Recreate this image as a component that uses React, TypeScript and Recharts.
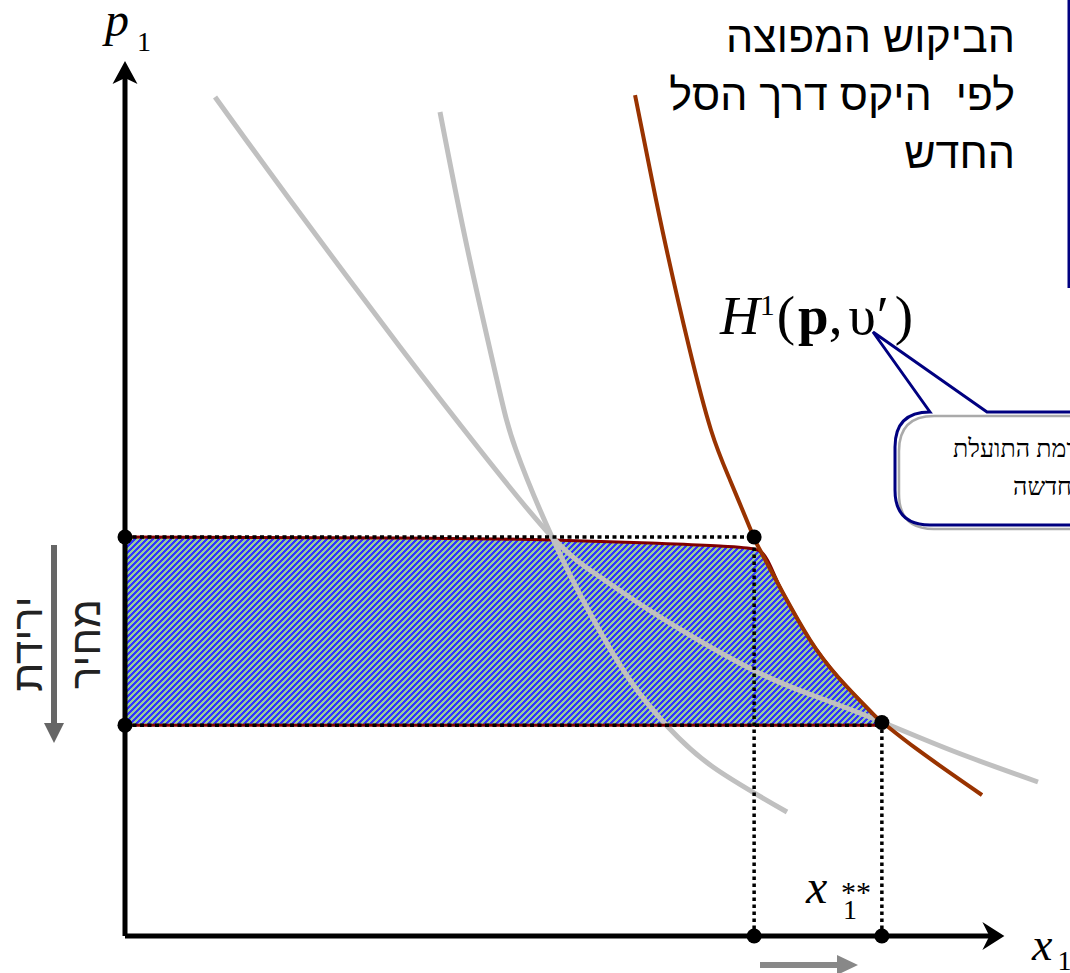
import { ComposedChart, Line, Area, Scatter, XAxis, YAxis, ReferenceLine } from 'recharts';

// chart units: x 0..105, y 0..100 (same px scale on both axes)
const priceHigh = 45.6;
const priceLow = 24.1;
const xHicks = 71.9;
const xStarStar = 86.5;
const yStarStar = 24.4;

// gray curves
const grayCurveA = [
  { x: 36.0, y: 94.17 },
  { x: 39.09, y: 78.74 },
  { x: 42.51, y: 63.54 },
  { x: 44.69, y: 55.54 },
  { x: 48.8, y: 45.6 },
  { x: 53.37, y: 36.46 },
  { x: 57.94, y: 28.91 },
  { x: 62.06, y: 23.89 },
  { x: 67.2, y: 19.31 },
  { x: 75.66, y: 14.17 },
];

const grayCurveB = [
  { x: 10.29, y: 95.89 },
  { x: 18.86, y: 84.11 },
  { x: 31.43, y: 67.31 },
  { x: 40.57, y: 55.54 },
  { x: 48.8, y: 45.6 },
  { x: 54.29, y: 41.03 },
  { x: 61.14, y: 36.46 },
  { x: 71.77, y: 30.4 },
  { x: 79.43, y: 27.2 },
  { x: 86.51, y: 24.46 },
  { x: 94.63, y: 21.14 },
  { x: 104.34, y: 17.6 },
];

// H1(p, v') hicksian demand
const hicksDemand = [
  { x: 58.29, y: 96.11 },
  { x: 60.23, y: 86.4 },
  { x: 61.83, y: 78.74 },
  { x: 64.46, y: 67.31 },
  { x: 66.97, y: 57.83 },
  { x: 69.14, y: 52.11 },
  { x: 71.66, y: 46.06 },
  { x: 72.57, y: 44.11 },
  { x: 75.2, y: 39.2 },
  { x: 78.29, y: 33.83 },
  { x: 81.49, y: 29.6 },
  { x: 85.37, y: 25.49 },
  { x: 86.51, y: 24.46 },
  { x: 90.63, y: 21.26 },
  { x: 97.94, y: 16.11 },
];

// top edge of the equivalent variation area
const evTop = [
  { x: 0, y: 45.6 },
  { x: 31.43, y: 45.49 },
  { x: 48.8, y: 45.26 },
  { x: 60.0, y: 44.91 },
  { x: 68.0, y: 44.57 },
  { x: 71.09, y: 44.34 },
  { x: 72.57, y: 44.0 },
  { x: 75.2, y: 39.2 },
  { x: 78.29, y: 33.83 },
  { x: 81.49, y: 29.6 },
  { x: 85.37, y: 25.49 },
  { x: 86.51, y: 24.23 },
];

const keyPoints = [
  { x: 0, y: priceHigh },
  { x: 0, y: priceLow },
  { x: xHicks, y: priceHigh },
  { x: xStarStar, y: yStarStar },
  { x: xHicks, y: 0 },
  { x: xStarStar, y: 0 },
];

const topNote = ['הביקוש המפוצה', 'לפי  היקס דרך הסל', 'החדש'];
const calloutNote = ['ברמת התועלת', 'החדשה'];
const sideNote = ['ירידת', 'מחיר'];

const serif = '"Liberation Serif", "Times New Roman", serif';
const sans = '"Liberation Sans", Arial, "DejaVu Sans", sans-serif';

// crisp "/" hatch, 6px period, 3px blue
const hatchRows = [0, 1, 2, 3, 4, 5];

const XArrow = (p: any) => (
  <g>
    <line x1={p.x1} y1={p.y1} x2={p.x2 - 12} y2={p.y2} stroke="#000" strokeWidth={5} />
    <path
      d={`M ${p.x2} ${p.y2} L ${p.x2 - 22} ${p.y2 - 14} L ${p.x2 - 15} ${p.y2} L ${p.x2 - 22} ${p.y2 + 14} Z`}
      fill="#000"
    />
  </g>
);

const YArrow = (p: any) => (
  <g>
    <line x1={p.x1} y1={p.y1} x2={p.x2} y2={p.y2 + 12} stroke="#000" strokeWidth={5} />
    <path
      d={`M ${p.x2} ${p.y2} L ${p.x2 - 12.5} ${p.y2 + 23} L ${p.x2} ${p.y2 + 17} L ${p.x2 + 12.5} ${p.y2 + 23} Z`}
      fill="#000"
    />
  </g>
);

const BigDot = (p: any) => <circle cx={p.cx} cy={p.cy} r={7.5} fill="#000" />;

const boxPath = 'M 930 412 L 1160 412 L 1160 525 L 930 525 Q 895 525 895 490 L 895 447 Q 895 412 930 412 Z';
const shadowPath = 'M 934 416 L 1164 416 L 1164 529 L 934 529 Q 899 529 899 494 L 899 451 Q 899 416 934 416 Z';
const calloutPath =
  'M 930 412 L 873 332 L 987 412 L 1160 412 L 1160 525 L 930 525 Q 895 525 895 490 L 895 447 Q 895 412 930 412 Z';

export default function App() {
  return (
    <div style={{ position: 'absolute', left: 0, top: 0, width: 1070, height: 973, background: '#fff' }}>
      <ComposedChart width={1070} height={973} margin={{ top: 61, right: 26.25, bottom: 37, left: 125 }}>
        <defs>
          <pattern id="evHatch" width="6" height="6" patternUnits="userSpaceOnUse">
            <rect width="6" height="6" fill="#99cc99" />
            {hatchRows.map((r) => {
              const start = (6 - r) % 6;
              return (
                <g key={r} shapeRendering="crispEdges">
                  <rect x={start} y={r} width={3} height={1} fill="#3333ff" />
                  {start > 3 && <rect x={start - 6} y={r} width={3} height={1} fill="#3333ff" />}
                </g>
              );
            })}
          </pattern>
        </defs>
        <XAxis type="number" dataKey="x" domain={[0, 105]} hide />
        <YAxis type="number" dataKey="y" domain={[0, 100]} hide />

        <Area
          data={evTop}
          dataKey="y"
          type="monotone"
          baseValue={priceLow}
          stroke="#800000"
          strokeWidth={3}
          fill="url(#evHatch)"
          fillOpacity={1}
          isAnimationActive={false}
        />
        <Line data={grayCurveA} dataKey="y" type="natural" stroke="#c0c0c0" strokeWidth={5} dot={false} isAnimationActive={false} />
        <Line data={grayCurveB} dataKey="y" type="natural" stroke="#c0c0c0" strokeWidth={5} dot={false} isAnimationActive={false} />
        <Line data={hicksDemand} dataKey="y" type="natural" stroke="#993300" strokeWidth={4} dot={false} isAnimationActive={false} />

        <ReferenceLine segment={[{ x: 0, y: priceLow }, { x: xStarStar, y: priceLow }]} stroke="#800000" strokeWidth={3} />
        <ReferenceLine segment={[{ x: 0, y: priceHigh }, { x: xHicks, y: priceHigh }]} stroke="#000" strokeWidth={3.5} strokeDasharray="4 3.5" />
        <ReferenceLine segment={[{ x: 0, y: priceLow }, { x: xStarStar, y: priceLow }]} stroke="#000" strokeWidth={3.5} strokeDasharray="4 3.5" />
        <ReferenceLine segment={[{ x: xHicks, y: 0 }, { x: xHicks, y: priceHigh }]} stroke="#000" strokeWidth={3.5} strokeDasharray="3.5 3.5" />
        <ReferenceLine segment={[{ x: xStarStar, y: 0 }, { x: xStarStar, y: yStarStar }]} stroke="#000" strokeWidth={3.5} strokeDasharray="3.5 3.5" />

        <ReferenceLine segment={[{ x: 0, y: 0 }, { x: 100.5, y: 0 }]} shape={XArrow} />
        <ReferenceLine segment={[{ x: 0, y: 0 }, { x: 0, y: 100 }]} shape={YArrow} />

        <Scatter data={keyPoints} dataKey="y" shape={BigDot} isAnimationActive={false} />

        {/* labels */}
        <text x={105} y={36} fontFamily={serif} fontSize={48} fontStyle="italic">
          p<tspan fontStyle="normal" fontSize={28} dx={8} dy={15}>1</tspan>
        </text>
        <text x={1032} y={960} fontFamily={serif} fontSize={46} fontStyle="italic">
          x<tspan fontStyle="normal" fontSize={28} dx={5} dy={10}>1</tspan>
        </text>
        <text x={806} y={903} fontFamily={serif} fontSize={48} fontStyle="italic">x</text>
        <text x={843} y={919} fontFamily={serif} fontSize={28}>1</text>
        <text x={841} y={902} fontFamily={serif} fontSize={30}>**</text>

        <text x={720} y={334} fontFamily={serif} fontSize={55}>
          <tspan fontStyle="italic">H</tspan>
          <tspan fontSize={30} dy={-19}>1</tspan>
          <tspan dy={19} dx={2}>(</tspan>
          <tspan fontWeight="bold" dx={3}>p</tspan>
          <tspan>,</tspan>
          <tspan dx={6}>υ</tspan>
          <tspan dx={1}>′</tspan>
          <tspan dx={6}>)</tspan>
        </text>

        {topNote.map((t, i) => (
          <text
            key={t}
            x={1015}
            y={52 + i * 58}
            textAnchor="end"
            fontFamily={sans}
            fontSize={43}
            fill="#000"
            style={{ whiteSpace: 'pre' }}
          >
            {t}
          </text>
        ))}

        <text x={167} y={635} fontFamily={sans} fontSize={40} fontWeight="bold">Equivalent</text>
        <text x={167} y={685} fontFamily={sans} fontSize={40} fontWeight="bold">Variation</text>

        {sideNote.map((t, i) => (
          <text
            key={t}
            transform={`translate(${42 + i * 58}, 644) rotate(-90)`}
            textAnchor="middle"
            fontFamily={sans}
            fontSize={42}
            fill="#222"
          >
            {t}
          </text>
        ))}

        {/* gray direction arrows */}
        <path d="M 51 545 L 57 545 L 57 723 L 64 723 L 54 743 L 44 723 L 51 723 Z" fill="#666" />
        <path d="M 760 962 L 837 962 L 837 955 L 858 965 L 837 975 L 837 968 L 760 968 Z" fill="#888" />

        {/* box edge top right */}
        <line x1={1069} y1={0} x2={1069} y2={288} stroke="#000080" strokeWidth={3} />

        {/* callout */}
        <path d={boxPath} fill="#fff" />
        <path d={shadowPath} fill="none" stroke="#aaa" strokeWidth={2.5} />
        <path d={calloutPath} fill="#fff" fillOpacity={0} stroke="#000080" strokeWidth={3} />
        {calloutNote.map((t, i) => (
          <text key={t} x={i === 0 ? 953 : 1013} y={457 + i * 38} fontFamily={serif} fontSize={25} fill="#000">
            {t}
          </text>
        ))}
      </ComposedChart>
    </div>
  );
}
